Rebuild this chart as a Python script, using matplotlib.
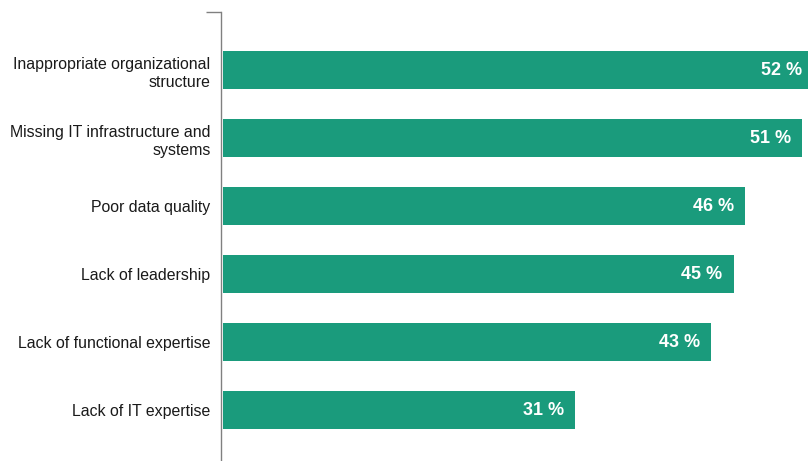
import matplotlib.pyplot as plt
from matplotlib.ticker import FixedLocator

plt.rcParams['font.family'] = ['Liberation Sans', 'DejaVu Sans']

# Chart data
categories = [
    "Inappropriate organizational\nstructure",
    "Missing IT infrastructure and\nsystems",
    "Poor data quality",
    "Lack of leadership",
    "Lack of functional expertise",
    "Lack of IT expertise",
]
values = [52, 51, 46, 45, 43, 31]

green = "#1a9b7c"
grey = "#808080"

fig = plt.figure(figsize=(8.08, 4.61), dpi=100)
ax = fig.add_axes([221 / 808, 0, 1 - 221 / 808, 1 - 12 / 461])

pos = list(range(len(categories)))
ax.barh(pos, values, height=0.56, color=green, left=0)

# Value labels inside the bar ends
for y, v in zip(pos, values):
    ax.annotate(f"{v} %", xy=(v, y), xytext=(-8, -0.7), textcoords="offset points",
                ha="right", va="center", color="white", fontweight="bold",
                fontsize=13, annotation_clip=False)

ax.set_xlim(-0.18, 51.55)
ax.set_ylim(5.75, -0.853)

ax.set_yticks(pos)
ax.set_yticklabels(categories, fontsize=11.4, color="#1a1a1a", ha="right",
                   multialignment="right", linespacing=1.32)
ax.tick_params(axis="y", which="major", length=0, pad=7.5)
ax.yaxis.set_minor_locator(FixedLocator([-0.853]))
ax.tick_params(axis="y", which="minor", length=10.8, width=1, color=grey)
ax.set_xticks([])

for side in ["top", "right", "bottom"]:
    ax.spines[side].set_visible(False)
ax.spines["left"].set_color(grey)
ax.spines["left"].set_linewidth(1)

fig.savefig("out.png", dpi=100)
